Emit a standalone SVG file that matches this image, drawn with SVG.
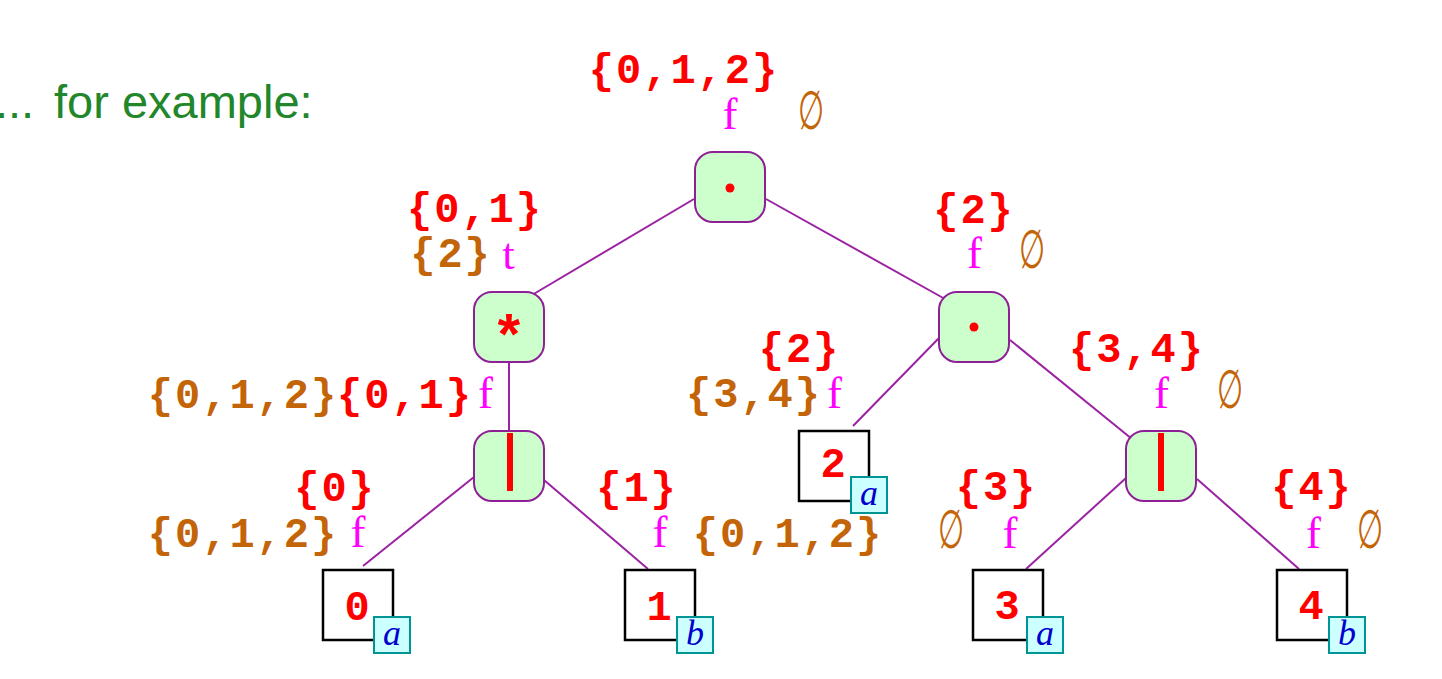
<svg xmlns="http://www.w3.org/2000/svg" width="1442" height="679" viewBox="0 0 1442 679">
<style>
.op{fill:#ccffcc;stroke:#8e1f96;stroke-width:2}
.leaf{fill:#ffffff;stroke:#000000;stroke-width:2.5}
.tag{fill:#ccffff;stroke:#009494;stroke-width:2}
.edge{stroke:#9b23a3;stroke-width:2;fill:none}
.mono{font-family:"Liberation Mono",monospace;font-weight:bold;font-size:42px;letter-spacing:2px;text-anchor:middle}
.red{fill:#ff0000}
.org{fill:#c46408}
.fv{font-family:"Liberation Serif",serif;font-size:45px;fill:#ff00ff;text-anchor:middle}
.em{font-family:"DejaVu Serif","Liberation Serif",serif;font-size:40px;fill:#c46408;text-anchor:middle}
.var{font-family:"Liberation Serif",serif;font-style:italic;font-size:36px;fill:#0000d0;text-anchor:middle}
.bar{fill:#ff0000}
</style>
<defs>
<text id="empty" class="em" x="0" y="0" transform="scale(0.75,1.35)">∅</text>
</defs>
<text x="-5" y="118" font-family="'Liberation Sans',sans-serif" font-size="47" fill="#22862a"><tspan x="-5">...</tspan><tspan x="54">for example:</tspan></text>
<g id="connectors">
<line class="edge" x1="694" y1="199" x2="532" y2="295"/>
<line class="edge" x1="766" y1="199" x2="945" y2="299"/>
<line class="edge" x1="509" y1="362" x2="509" y2="431"/>
<line class="edge" x1="474" y1="477" x2="363" y2="566"/>
<line class="edge" x1="544" y1="480" x2="648" y2="569"/>
<line class="edge" x1="939" y1="338" x2="853" y2="426"/>
<line class="edge" x1="1010" y1="340" x2="1132" y2="439"/>
<line class="edge" x1="1126" y1="478" x2="1026" y2="569"/>
<line class="edge" x1="1197" y1="479" x2="1299" y2="569"/>
</g>
<g id="root">
<rect class="op" x="695" y="152" width="70" height="70" rx="18"/>
<circle cx="730" cy="188" r="4.5" fill="#ff0000"/>
<text class="mono red" x="684" y="83">{0,1,2}</text>
<text class="fv" x="730" y="129">f</text>
<use href="#empty" x="0" y="0" transform="translate(811.5,129)"/>
</g>
<g id="star">
<rect class="op" x="474" y="292" width="70" height="70" rx="18"/>
<text class="mono red" x="510" y="356" style="font-size:58px">*</text>
<text class="mono red" x="475" y="222">{0,1}</text>
<text class="mono org" x="451" y="267">{2}</text>
<text class="fv" x="508.5" y="269">t</text>
</g>
<g id="alt-left">
<rect class="op" x="474" y="431" width="70" height="70" rx="18"/>
<rect class="bar" x="507" y="433" width="6" height="58"/>
<text class="mono org" x="243" y="408">{0,1,2}</text>
<text class="mono red" x="405" y="408">{0,1}</text>
<text class="fv" x="485.5" y="408">f</text>
</g>
<g id="dot-right">
<rect class="op" x="939" y="292" width="70" height="70" rx="18"/>
<circle cx="974" cy="327" r="4.5" fill="#ff0000"/>
<text class="mono red" x="974" y="223">{2}</text>
<text class="fv" x="974.5" y="268">f</text>
<use href="#empty" transform="translate(1032.5,268)"/>
</g>
<g id="alt-right">
<rect class="op" x="1126" y="431" width="70" height="70" rx="18"/>
<rect class="bar" x="1158" y="433" width="6" height="58"/>
<text class="mono red" x="1137" y="362">{3,4}</text>
<text class="fv" x="1161.5" y="408">f</text>
<use href="#empty" transform="translate(1230.5,408)"/>
</g>
<g id="leaf0">
<rect class="leaf" x="323" y="570" width="70" height="70"/>
<text class="mono red" x="358" y="620">0</text>
<rect class="tag" x="374" y="617" width="36" height="36"/>
<text class="var" x="392" y="645">a</text>
<text class="mono red" x="335" y="501">{0}</text>
<text class="mono org" x="243" y="547">{0,1,2}</text>
<text class="fv" x="358" y="547">f</text>
</g>
<g id="leaf1">
<rect class="leaf" x="625" y="570" width="70" height="70"/>
<text class="mono red" x="660" y="620">1</text>
<rect class="tag" x="677" y="617" width="36" height="36"/>
<text class="var" x="695" y="645">b</text>
<text class="mono red" x="637" y="501">{1}</text>
<text class="fv" x="660" y="547">f</text>
<text class="mono org" x="788" y="547">{0,1,2}</text>
</g>
<g id="leaf2">
<rect class="leaf" x="799" y="431" width="70" height="70"/>
<text class="mono red" x="834" y="477">2</text>
<rect class="tag" x="851" y="477" width="36" height="36"/>
<text class="var" x="869" y="505">a</text>
<text class="mono red" x="799.5" y="362">{2}</text>
<text class="mono org" x="754" y="407">{3,4}</text>
<text class="fv" x="834.5" y="408">f</text>
</g>
<g id="leaf3">
<rect class="leaf" x="973" y="570" width="70" height="70"/>
<text class="mono red" x="1008" y="619">3</text>
<rect class="tag" x="1027" y="617" width="36" height="36"/>
<text class="var" x="1045" y="645">a</text>
<text class="mono red" x="996.5" y="500">{3}</text>
<use href="#empty" transform="translate(951.5,548)"/>
<text class="fv" x="1010" y="548">f</text>
</g>
<g id="leaf4">
<rect class="leaf" x="1277" y="570" width="70" height="70"/>
<text class="mono red" x="1312" y="619">4</text>
<rect class="tag" x="1329" y="617" width="36" height="36"/>
<text class="var" x="1347" y="645">b</text>
<text class="mono red" x="1312" y="500">{4}</text>
<text class="fv" x="1313.5" y="548">f</text>
<use href="#empty" transform="translate(1370.5,548)"/>
</g>
</svg>
